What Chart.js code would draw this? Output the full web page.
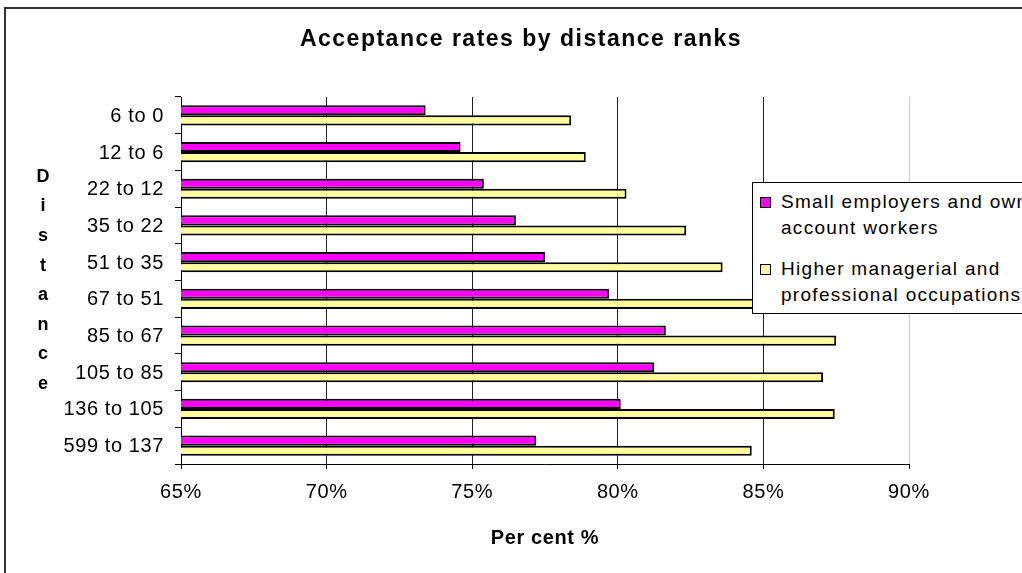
<!DOCTYPE html>
<html>
<head>
<meta charset="utf-8">
<script src="https://cdn.jsdelivr.net/npm/chart.js@4"></script>
<style>
    html, body { margin: 0; padding: 0; background: #fff; overflow: hidden; }
    .wrap { position: relative; width: 1022px; height: 573px; }
    #chart { position: absolute; left: 0; top: 0; }
    .legend {
        position: absolute;
        left: 752px;
        top: 182px;
        width: 300px;
        height: 124px;
        padding-top: 6px;
        border: 1px solid #000;
        background: #fff;
        font-family: "Liberation Sans", Arial, sans-serif;
        font-size: 19px;
        letter-spacing: 1.3px;
        color: #000;
    }
    .legend div { display: flex; align-items: flex-start; margin-bottom: 15px; }
    .legend i {
        flex: none;
        width: 9px;
        height: 9px;
        border: 1px solid #000;
        margin: 8px 10px 0 7px;
    }
    .legend span { width: 250px; line-height: 26px; }
</style>
</head>
<body>
<div class="wrap">
    <canvas id="chart" width="1022" height="573"></canvas>
    <div class="legend"></div>
</div>
<script>
const categories = ["6 to 0", "12 to 6", "22 to 12", "35 to 22", "51 to 35",
    "67 to 51", "85 to 67", "105 to 85", "136 to 105", "599 to 137"];
const smallEmployers = [73.4, 74.6, 75.4, 76.5, 77.5, 79.7, 81.65, 81.25, 80.1, 77.2];
const higherManagerial = [78.4, 78.9, 80.3, 82.35, 83.6, 85.6, 87.5, 87.05, 87.45, 84.6];
const seriesNames = ["Small employers and own account workers",
    "Higher managerial and professional occupations"];
const seriesColors = ["#FF00FF", "#FFFF99"];
const xTicks = [65, 70, 75, 80, 85, 90];

const FONT = "'Liberation Sans', Arial, sans-serif";

// spaced-out text like the original export, plus frame, title and stacked y title
const decor = {
    id: "decor",
    beforeUpdate(chart) { chart.ctx.letterSpacing = "0.6px"; },
    beforeDraw(chart) {
        const ctx = chart.ctx;
        ctx.letterSpacing = "0.6px";
        ctx.save();
        ctx.fillStyle = "#fff";
        ctx.fillRect(0, 0, chart.width, chart.height);
        ctx.strokeStyle = "#333";
        ctx.lineWidth = 2;
        ctx.beginPath();
        ctx.moveTo(5, chart.height);
        ctx.lineTo(5, 8);
        ctx.lineTo(chart.width, 8);
        ctx.stroke();
        ctx.restore();
    },
    afterDraw(chart) {
        const ctx = chart.ctx;
        const area = chart.chartArea;
        ctx.save();
        ctx.fillStyle = "#000";
        ctx.textAlign = "center";
        ctx.textBaseline = "middle";
        ctx.font = "bold 23px " + FONT;
        ctx.letterSpacing = "1.5px";
        ctx.fillText("Acceptance rates by distance ranks", 521, 40);
        ctx.font = "bold 18px " + FONT;
        ctx.letterSpacing = "0px";
        const word = "Distance";
        const mid = (area.top + area.bottom) / 2;
        for (let k = 0; k < word.length; k++) {
            ctx.fillText(word[k], 43, mid + (k - (word.length - 1) / 2) * 29.6);
        }
        ctx.restore();
    },
};

const data = {
    labels: categories,
    datasets: [
        {
            label: seriesNames[0],
            data: smallEmployers,
            backgroundColor: seriesColors[0],
            borderColor: "#000",
            borderWidth: 2,
        },
        {
            label: seriesNames[1],
            data: higherManagerial,
            backgroundColor: seriesColors[1],
            borderColor: "#000",
            borderWidth: 2,
        },
    ],
};

const config = {
    type: "bar",
    data: data,
    plugins: [decor],
    options: {
        indexAxis: "y",
        responsive: false,
        animation: false,
        events: [],
        categoryPercentage: 0.55,
        barPercentage: 1.0,
        layout: { padding: { left: 0, top: 97, right: 113, bottom: 0 } },
        plugins: {
            legend: { display: false },
            title: { display: false },
            tooltip: { enabled: false },
        },
        scales: {
            x: {
                min: xTicks[0],
                max: xTicks[xTicks.length - 1],
                afterBuildTicks: (scale) => {
                    scale.ticks = xTicks.map((v) => ({ value: v }));
                },
                afterFit: (scale) => { scale.height = 109; },
                border: { color: "#000", width: 1 },
                grid: {
                    color: (c) => (c.tick && c.tick.value === 90 ? "#cfcfcf" : "#222"),
                    tickColor: "#000",
                    tickLength: 5,
                    lineWidth: 1,
                },
                ticks: {
                    color: "#000",
                    padding: 11,
                    maxRotation: 0,
                    font: { family: FONT, size: 20 },
                    callback: (v) => v + "%",
                },
                title: {
                    display: true,
                    text: "Per cent %",
                    color: "#000",
                    font: { family: FONT, size: 20, weight: "bold" },
                    padding: { top: 0, bottom: 23 },
                },
            },
            y: {
                afterFit: (scale) => { scale.width = 181; },
                border: { color: "#000", width: 1 },
                grid: {
                    drawOnChartArea: false,
                    tickColor: "#000",
                    tickLength: 6,
                },
                ticks: {
                    color: "#000",
                    padding: 11,
                    labelOffset: 1,
                    font: { family: FONT, size: 20 },
                },
            },
        },
    },
};

const chartD = document.getElementById("chart");
const myChart = new Chart(chartD, config);

const createLegend = (data) => {
    const legendArea = document.querySelector(".legend");
    data.datasets.forEach((ds) => {
        const div = document.createElement("div");
        const i = document.createElement("i");
        const span = document.createElement("span");
        i.style.backgroundColor = ds.backgroundColor;
        span.textContent = ds.label;
        div.append(i, span);
        legendArea.append(div);
    });
};
createLegend(data);
</script>
</body>
</html>
